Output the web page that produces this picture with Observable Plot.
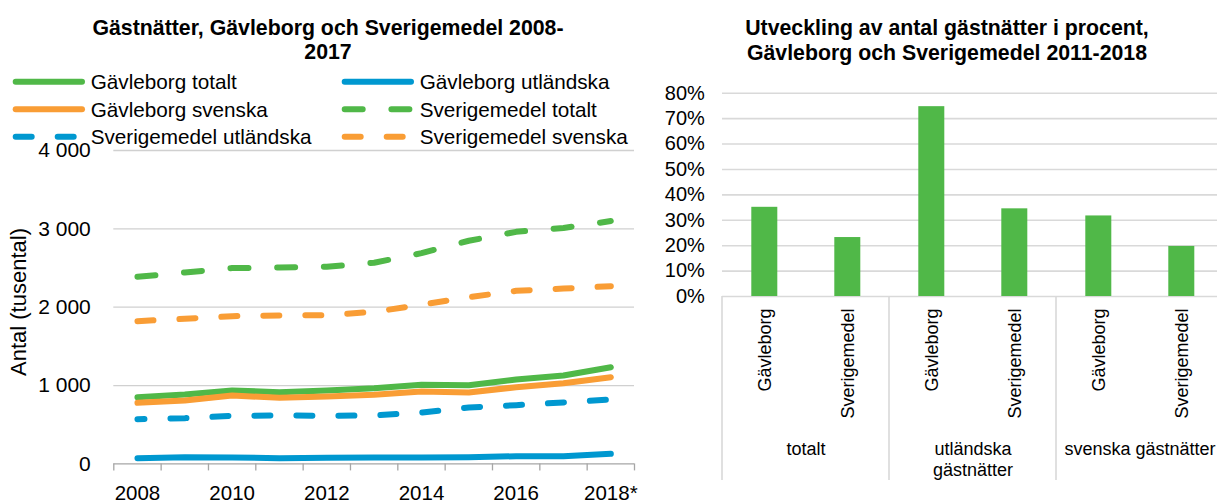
<!DOCTYPE html>
<html><head><meta charset="utf-8">
<script src="https://cdn.jsdelivr.net/npm/d3@7"></script>
<script src="https://cdn.jsdelivr.net/npm/@observablehq/plot@0.6"></script>
<style>
html,body{margin:0;padding:0;background:#fff;overflow:hidden;}
#wrap{position:relative;width:1217px;height:504px;overflow:hidden;font-family:"Liberation Sans",Arial,sans-serif;}
#left{position:absolute;left:0;top:0;width:650px;height:504px;}
#right{position:absolute;left:650px;top:0;width:580px;height:504px;}
#left svg,#right svg{max-width:none !important;display:block;}
#overlay{position:absolute;left:0;top:0;}
</style></head><body>
<div id="wrap"><div id="left"></div><div id="right"></div><svg id="overlay" width="1217" height="504"></svg></div>
<script>
// ---------- data: left chart (thousands of guest nights) ----------
const years = [2008, 2009, 2010, 2011, 2012, 2013, 2014, 2015, 2016, 2017, 2018];
const gavleborgTotalt    = [851, 886, 937, 915, 937, 966, 1010, 1005, 1077, 1128, 1234];
const gavleborgUtlandska = [73, 86, 82, 73, 78, 82, 82, 86, 98, 98, 129];
const gavleborgSvenska   = [780, 809, 873, 844, 860, 882, 924, 911, 979, 1030, 1107];
const sverigeTotalt      = [2388, 2443, 2499, 2507, 2516, 2567, 2690, 2848, 2962, 3012, 3099];
const sverigeUtlandska   = [571, 584, 614, 618, 614, 618, 656, 720, 750, 784, 822];
const sverigeSvenska     = [1822, 1852, 1886, 1894, 1899, 1941, 2031, 2128, 2209, 2238, 2268];
const seriesNames = ["Gävleborg totalt", "Gävleborg utländska", "Gävleborg svenska",
                     "Sverigemedel totalt", "Sverigemedel utländska", "Sverigemedel svenska"];
const xTickYears  = [2008, 2010, 2012, 2014, 2016, 2018];
const xTickLabels = ["2008", "2010", "2012", "2014", "2016", "2018*"];
const leftYTicks  = [0, 1000, 2000, 3000, 4000];
const leftYTickLabels = ["0", "1 000", "2 000", "3 000", "4 000"];
const leftTitle = ["Gästnätter, Gävleborg och Sverigemedel 2008-", "2017"];
const leftYLabel = "Antal (tusental)";

// ---------- data: right chart (growth in percent) ----------
const groups = ["totalt", "utländska gästnätter", "svenska gästnätter"];
const groupLabels = ["totalt", "utländska\ngästnätter", "svenska gästnätter"];
const regions = ["Gävleborg", "Sverigemedel"];
const growthPct = [35.1, 23.2, 74.7, 34.5, 31.7, 19.7];
const rightYTicks = [0, 10, 20, 30, 40, 50, 60, 70, 80];
const rightYTickLabels = ["0%", "10%", "20%", "30%", "40%", "50%", "60%", "70%", "80%"];
const rightTitle = ["Utveckling av antal gästnätter i procent,", "Gävleborg och Sverigemedel 2011-2018"];

// ---------- styles ----------
const GREEN = "#50b848", ORANGE = "#f99d35", BLUE = "#0098d0";
const seriesStyle = [
  {color: GREEN},
  {color: BLUE},
  {color: ORANGE},
  {color: GREEN, dash: "18,28.7", offset: 0},
  {color: BLUE, dash: "16,26", offset: 9},
  {color: ORANGE, dash: "16,26", offset: 0}
];
const FONT = "'Liberation Sans', Arial, sans-serif";

// ---------- left chart ----------
const seriesValues = [gavleborgTotalt, gavleborgUtlandska, gavleborgSvenska, sverigeTotalt, sverigeUtlandska, sverigeSvenska];
const lineMarks = seriesValues.map((vals, i) => {
  const rows = years.map((yr, j) => ({year: yr, value: vals[j], series: seriesNames[i]}));
  const st = seriesStyle[i];
  return Plot.line(rows, {
    x: "year", y: "value", stroke: st.color, strokeWidth: 6,
    strokeLinecap: "round", strokeLinejoin: "round",
    strokeDasharray: st.dash, strokeDashoffset: st.offset
  });
});

const left = Plot.plot({
  width: 650, height: 504,
  marginLeft: 113.3, marginRight: 16, marginTop: 150, marginBottom: 40.6,
  x: {domain: [2007.5, 2018.5]},
  y: {domain: [0, 4000]},
  style: {fontFamily: FONT, fontSize: "21px", color: "#000", background: "transparent", overflow: "visible", maxWidth: "none"},
  marks: [
    Plot.gridY(leftYTicks.slice(1), {stroke: "#d0d0d0", strokeOpacity: 1, strokeWidth: 1.3}),
    Plot.ruleY([0], {stroke: "#a6a6a6", strokeWidth: 1.3}),
    Plot.axisX(d3.range(2007.5, 2019, 1), {tickSize: 7, stroke: "#a6a6a6", strokeWidth: 1.3, tickFormat: () => "", label: null}),
    Plot.axisX(xTickYears, {tickSize: 0, tickPadding: 22, fontSize: 20.5, fill: "#000",
      tickFormat: d => xTickLabels[xTickYears.indexOf(d)], label: null}),
    Plot.axisY(leftYTicks, {tickSize: 0, tickPadding: 23, fontSize: 21, fill: "#000",
      tickFormat: d => leftYTickLabels[leftYTicks.indexOf(d)], label: null}),
    ...lineMarks
  ]
});
document.getElementById("left").appendChild(left);

// ---------- right chart ----------
const barRows = [];
groups.forEach((g, gi) => regions.forEach((r, ri) => barRows.push({group: g, region: r, value: growthPct[gi * 2 + ri]})));

const right = Plot.plot({
  width: 580, height: 504,
  marginLeft: 71.7, marginRight: 6.7, marginTop: 92.7, marginBottom: 208,
  fx: {domain: groups, padding: 0},
  x: {domain: regions, paddingInner: 0.689, paddingOuter: 0.3445},
  y: {domain: [0, 80]},
  style: {fontFamily: FONT, fontSize: "18px", color: "#000", background: "transparent", overflow: "visible", maxWidth: "none"},
  marks: [
    Plot.gridY(rightYTicks, {stroke: "#d9d9d9", strokeOpacity: 1, strokeWidth: 1.6}),
    Plot.barY(barRows, {fx: "group", x: "region", y: "value", fill: GREEN}),
    Plot.axisY(rightYTicks, {tickSize: 0, tickPadding: 17.7, fontSize: 20, fill: "#000",
      tickFormat: d => rightYTickLabels[rightYTicks.indexOf(d)], label: null}),
    Plot.axisX({tickRotate: -90, tickSize: 0, tickPadding: 12, fontSize: 18, fill: "#000", label: null}),
    Plot.axisFx({anchor: "bottom", tickSize: 0, tickPadding: 143, fontSize: 18, lineHeight: 1.2, fill: "#000",
      tickFormat: d => groupLabels[groups.indexOf(d)], label: null})
  ]
});
document.getElementById("right").appendChild(right);

// group dividers below the category axis (Excel multi-level category lines)
{
  const fx = right.scale("fx");
  const ys = right.scale("y");
  const y0 = ys.apply(0);
  const xs = groups.map(g => fx.apply(g));
  xs.push(fx.apply(groups[groups.length - 1]) + fx.bandwidth);
  const sel = d3.select(right);
  xs.forEach(xx => {
    sel.append("line").attr("x1", xx).attr("x2", xx).attr("y1", y0).attr("y2", 480)
      .attr("stroke", "#d9d9d9").attr("stroke-width", 1.6);
  });
}

// ---------- overlay: titles, legend, axis label ----------
const ov = d3.select("#overlay");
function txt(x, y, s, o = {}) {
  return ov.append("text").attr("x", x).attr("y", y).text(s)
    .attr("font-family", FONT).attr("font-size", o.size || 20)
    .attr("font-weight", o.weight || "normal")
    .attr("text-anchor", o.anchor || "start").attr("fill", "#000");
}
txt(328, 34.5, leftTitle[0], {size: 21.3, weight: "bold", anchor: "middle"});
txt(328, 59, leftTitle[1], {size: 21.3, weight: "bold", anchor: "middle"});
txt(947, 34.5, rightTitle[0], {size: 21.3, weight: "bold", anchor: "middle"});
txt(947, 59.5, rightTitle[1], {size: 21.3, weight: "bold", anchor: "middle"});

ov.append("text").attr("transform", "translate(26,302) rotate(-90)")
  .attr("text-anchor", "middle").attr("font-family", FONT).attr("font-size", 22).attr("fill", "#000")
  .text(leftYLabel);

const legendCols = [15.7, 344.7];
const legendRows = [81.7, 109.3, 136.7];
seriesNames.forEach((name, i) => {
  const cx = legendCols[i % 2], cy = legendRows[Math.floor(i / 2)];
  const st = seriesStyle[i];
  const ln = ov.append("line").attr("x1", cx).attr("x2", cx + 66.3).attr("y1", cy).attr("y2", cy)
    .attr("stroke", st.color).attr("stroke-width", 6).attr("stroke-linecap", "round");
  if (st.dash) ln.attr("stroke-dasharray", st.dash);
  txt(cx + 75, cy + 7.3, name, {size: 20.7});
});
</script>
</body></html>
